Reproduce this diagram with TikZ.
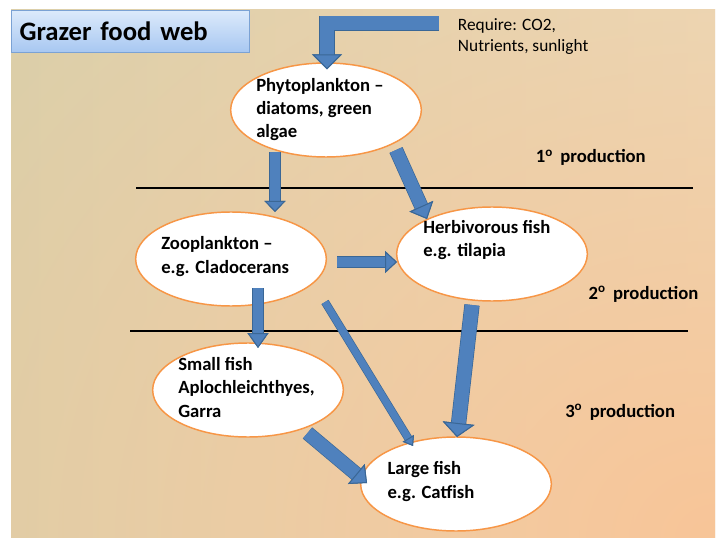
\documentclass[tikz,border=0pt]{standalone}
\usepackage{fontspec}
\setmainfont{Carlito}
\usetikzlibrary{arrows.meta, calc, shapes.geometric, fadings}

\definecolor{webblue}{HTML}{4F81BD}
\definecolor{webedge}{HTML}{3A6796}
\definecolor{rimorange}{HTML}{F79646}
\definecolor{bgtan}{HTML}{DCCFA9}
\definecolor{bgcream}{HTML}{F1E8D0}
\definecolor{bgright}{HTML}{E8DCBD}
\definecolor{bgpeach}{HTML}{F8C598}
\definecolor{titletop}{HTML}{DCEAFB}
\definecolor{titlebot}{HTML}{A7C7F1}
\definecolor{titlerim}{HTML}{7BA2D4}

\tikzfading[name=glow, inner color=transparent!0, outer color=transparent!100]

\begin{document}
\begin{tikzpicture}[
    x=0.75pt, y=-0.75pt,
    organism/.style={
        ellipse,
        draw=rimorange,
        fill=white,
        line width=1.1pt,
        minimum width=143pt,
        minimum height=70.5pt,
        inner sep=0pt
    },
    lbl/.style={
        font=\fontsize{14}{17.6}\selectfont\bfseries,
        align=left,
        anchor=base west,
        inner sep=0pt
    },
    level/.style={
        font=\fontsize{14}{16}\selectfont\bfseries,
        anchor=base west,
        inner sep=0pt
    },
    titlebox/.style={
        rectangle,
        draw=titlerim,
        top color=titletop,
        bottom color=titlebot,
        line width=0.8pt,
        minimum width=178.5pt,
        minimum height=31.5pt,
        text width=166.5pt,
        inner xsep=6pt,
        align=left,
        font=\fontsize{20}{24}\selectfont\bfseries
    },
    divider/.style={
        line width=2.2pt,
        color=black
    },
    flow/.style n args={3}{
        draw=webblue,
        line width=#1,
        preaction={draw=webedge, line width=#1+1pt},
        -{Triangle[width=#2, length=#3, fill=webblue, color=webedge, line width=0.75pt]}
    }
]
\useasboundingbox (0,0) rectangle (717,538);
\fill[white] (0,0) rectangle (717,538);

% Slide background
\begin{scope}
    \clip (11,10) rectangle (715,538);
    \fill[left color=bgtan, middle color=bgcream, right color=bgright] (11,10) rectangle (715,538);
    \fill[bgpeach, path fading=glow] (-185,-222) rectangle (1615,1298);
\end{scope}

% Title
\node[titlebox, anchor=north west] (title) at (11,10) {Grazer food web};

% Trophic level dividers
\draw[divider] (136,188) -- (693,188);
\draw[divider] (130,331) -- (688,331);

% Organisms
\node[organism] (phyto) at (326,110) {};
\node[organism] (zoo)   at (231,259) {};
\node[organism] (herb)  at (492,254) {};
\node[organism] (small) at (248,390) {};
\node[organism] (large) at (456,484) {};

% (base anchor sits on the last line)
\node[lbl] (phytotxt) at (256,138)   {Phytoplankton --\\diatoms, green\\algae};
\node[lbl] (zootxt)   at (161,273.3) {Zooplankton --\\e.g. Cladocerans};
\node[lbl] (herbtxt)  at (423,256.7) {Herbivorous fish\\e.g. tilapia};
\node[lbl] (smalltxt) at (178,417)   {Small fish\\Aplochleichthyes,\\Garra};
\node[lbl] (largetxt) at (387.3,498.3) {Large fish\\e.g. Catfish};

% Inputs
\node[font=\fontsize{13}{15.75}\selectfont, align=left, anchor=base west, inner sep=0pt]
    (needs) at (457.7,51.7) {Require: CO2,\\Nutrients, sunlight};
\coordinate (inputs) at (439,23.5);

% Production levels
\node[level] (prod1) at (535.7,163)   {1\textsuperscript{o}\, production};
\node[level] (prod2) at (588.3,299)   {2\textsuperscript{o}\, production};
\node[level] (prod3) at (565,417.7)   {3\textsuperscript{o}\, production};

% Energy flow
\draw[flow={10.5pt}{22.5pt}{11.25pt}] (inputs) -| ($(phyto.north)+(1,7)$);
\draw[flow={7.9pt}{15.75pt}{8.25pt}] ($(phyto)+(-51,42)$) -- ($(zoo)+(44,-47)$);
\draw[flow={9.75pt}{19.5pt}{10.5pt}] ($(phyto)+(70,40)$) -- ($(herb)+(-65,-35)$);
\draw[flow={7.5pt}{16.5pt}{9pt}] ($(zoo)+(106,3)$) -- ($(herb)+(-95,8)$);
\draw[flow={7.9pt}{15.75pt}{11.25pt}] ($(zoo)+(27,29)$) -- ($(small)+(10,-42)$);
\draw[flow={5.25pt}{9.75pt}{6.75pt}] ($(zoo)+(94,43)$) -- ($(large)+(-43,-38)$);
\draw[flow={10.5pt}{24pt}{10.5pt}] ($(herb)+(-20,51)$) -- ($(large)+(1,-47)$);
\draw[flow={10pt}{19.5pt}{10.5pt}] ($(small)+(59.5,43)$) -- ($(large)+(-89,-1)$);

\end{tikzpicture}
\end{document}
